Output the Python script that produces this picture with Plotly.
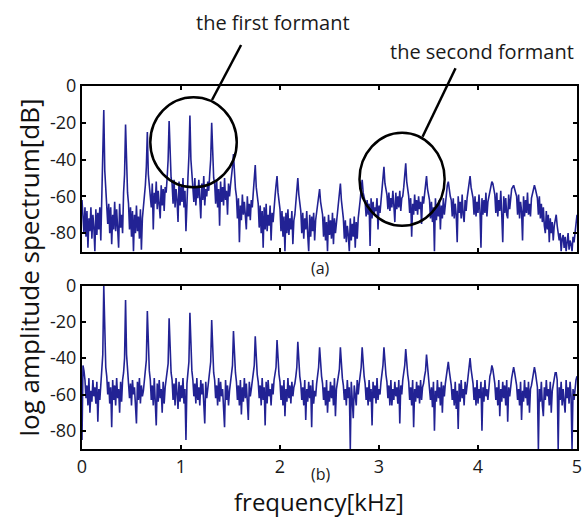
import numpy as np
import plotly.graph_objects as go
from plotly.subplots import make_subplots

# frequency sampling grid (kHz), 0.01 kHz step from 0 to 5
freq_step_khz = 0.01
n_bins = 501

# (a) log amplitude spectrum [dB] (one row per harmonic period)
spec_a = [
    -62, -70, -80, -66, -82, -68, -88, -72, -79, -66, -83, -70, -77, -90, -67, -81, -69, -78, -66, -84, -60, -48,
    -13, -46, -56, -62, -75, -64, -80, -66, -86, -70, -78, -63, -79, -67, -76, -88, -64, -77, -70, -80, -58, -48,
    -21, -50, -58, -64, -78, -66, -82, -68, -90, -70, -80, -65, -79, -71, -83, -67, -89, -72, -66, -62, -54, -44,
    -25, -48, -54, -56, -66, -53, -78, -58, -64, -52, -67, -57, -63, -72, -54, -65, -56, -68, -55, -58, -50, -40,
    -19, -42, -50, -53, -64, -51, -66, -56, -62, -74, -52, -65, -55, -63, -50, -66, -57, -79, -58, -50, -38,
    -16, -40, -48, -52, -63, -50, -65, -55, -61, -51, -64, -72, -53, -62, -49, -65, -56, -60, -52, -57, -48, -40,
    -20, -42, -50, -53, -64, -51, -66, -56, -76, -52, -63, -55, -65, -50, -62, -57, -70, -53, -60, -54, -50, -44,
    -37, -50, -56, -60, -72, -61, -85, -65, -73, -59, -70, -63, -74, -78, -60, -71, -64, -73, -62, -66, -58, -50,
    -43, -55, -61, -64, -77, -65, -80, -68, -88, -66, -78, -64, -79, -70, -76, -65, -84, -69, -74, -64, -60, -54,
    -49, -58, -63, -67, -79, -68, -82, -71, -90, -69, -80, -67, -81, -72, -78, -68, -86, -73, -70, -62, -56,
    -50, -59, -64, -68, -80, -69, -83, -72, -78, -68, -81, -90, -70, -82, -71, -79, -69, -84, -73, -69, -64, -60,
    -56, -63, -67, -70, -82, -71, -84, -74, -90, -70, -81, -73, -83, -69, -86, -72, -80, -74, -70, -65, -57,
    -53, -62, -68, -72, -83, -73, -85, -76, -81, -90, -72, -84, -75, -82, -71, -88, -74, -83, -72, -68, -62, -56,
    -51, -58, -61, -63, -71, -62, -70, -64, -87, -61, -72, -63, -70, -66, -68, -61, -78, -65, -69, -62, -56, -50,
    -44, -53, -57, -59, -67, -58, -68, -61, -66, -57, -65, -74, -58, -67, -60, -66, -57, -68, -61, -60, -55, -49,
    -42, -52, -57, -60, -69, -61, -82, -64, -70, -59, -68, -62, -70, -60, -67, -63, -75, -60, -64, -59, -54,
    -49, -56, -60, -62, -72, -63, -74, -66, -90, -61, -73, -64, -71, -62, -78, -65, -72, -61, -70, -63, -58, -54,
    -52, -58, -60, -62, -71, -61, -72, -64, -70, -85, -60, -69, -63, -72, -59, -70, -74, -62, -68, -61, -57, -52,
    -49, -55, -58, -61, -70, -60, -71, -63, -69, -59, -68, -88, -61, -70, -62, -69, -58, -71, -63, -60, -56, -53,
    -52, -53, -56, -59, -69, -58, -71, -62, -68, -57, -70, -85, -60, -69, -61, -70, -72, -59, -67, -59, -56, -55,
    -54, -56, -58, -60, -70, -59, -72, -63, -68, -84, -60, -71, -62, -69, -58, -70, -64, -71, -61, -58, -55,
    -54, -56, -59, -61, -70, -60, -72, -64, -74, -66, -76, -80, -68, -78, -70, -85, -72, -80, -74, -84, -76, -72,
    -70, -76, -80, -84, -80, -90, -83, -81, -88, -82, -90, -85, -80, -89, -84, -86, -90, -82, -85, -80, -74, -70,
]

# (b) log amplitude spectrum [dB]
spec_b = [
    -85, -44, -47, -52, -62, -55, -66, -51, -70, -58, -64, -52, -61, -56, -65, -53, -75, -57, -63, -52, -47, -38,
    0, -36, -45, -50, -60, -53, -65, -56, -78, -52, -63, -55, -66, -51, -62, -57, -70, -53, -64, -52, -48, -40,
    -8, -38, -46, -51, -62, -54, -66, -52, -60, -56, -64, -76, -53, -63, -51, -65, -55, -61, -58, -53, -48, -41,
    -14, -40, -47, -52, -63, -55, -66, -51, -61, -77, -54, -64, -52, -62, -57, -70, -53, -65, -56, -52, -49, -43,
    -18, -42, -48, -52, -63, -54, -66, -51, -60, -68, -53, -64, -55, -62, -51, -65, -57, -85, -54, -49, -42,
    -15, -40, -47, -52, -61, -54, -65, -51, -63, -56, -66, -52, -60, -54, -64, -76, -53, -62, -57, -52, -48, -42,
    -19, -41, -48, -52, -62, -55, -66, -51, -64, -53, -61, -57, -65, -78, -52, -63, -55, -66, -58, -52, -48, -44,
    -25, -42, -48, -53, -63, -55, -66, -52, -71, -56, -64, -51, -62, -54, -65, -74, -53, -61, -57, -53, -49, -44,
    -28, -43, -49, -53, -62, -55, -66, -51, -63, -56, -77, -53, -65, -52, -61, -57, -66, -54, -60, -52, -49, -45,
    -30, -44, -49, -53, -63, -55, -66, -52, -72, -57, -64, -51, -62, -55, -65, -53, -61, -56, -54, -50, -45,
    -31, -44, -50, -54, -63, -56, -66, -52, -74, -57, -64, -53, -62, -55, -78, -52, -65, -58, -61, -54, -50, -45,
    -34, -45, -50, -54, -63, -56, -66, -52, -70, -58, -64, -53, -62, -55, -66, -51, -72, -57, -54, -50, -46,
    -34, -46, -51, -55, -63, -57, -66, -52, -62, -56, -90, -53, -64, -73, -55, -61, -66, -52, -60, -54, -49, -45,
    -34, -45, -50, -54, -63, -56, -66, -52, -64, -57, -77, -53, -62, -55, -65, -51, -63, -57, -60, -53, -48, -44,
    -34, -44, -49, -53, -62, -55, -66, -52, -66, -57, -63, -53, -61, -56, -65, -52, -76, -55, -60, -52, -48, -44,
    -35, -44, -49, -53, -63, -56, -66, -52, -78, -57, -64, -53, -62, -55, -65, -52, -63, -56, -54, -50, -47,
    -38, -45, -50, -54, -63, -56, -67, -53, -80, -58, -64, -52, -62, -56, -66, -53, -70, -55, -61, -54, -50, -47,
    -42, -47, -51, -55, -63, -57, -66, -53, -68, -58, -79, -54, -64, -52, -62, -57, -66, -53, -60, -54, -50, -46,
    -40, -46, -50, -54, -63, -56, -66, -52, -65, -57, -62, -53, -80, -56, -64, -52, -61, -57, -63, -53, -50, -48,
    -44, -46, -50, -54, -63, -56, -66, -52, -72, -57, -64, -53, -62, -55, -66, -52, -75, -56, -61, -54, -51, -48,
    -45, -48, -52, -55, -63, -57, -66, -53, -74, -58, -64, -52, -62, -56, -66, -53, -70, -57, -55, -52, -49,
    -45, -48, -52, -56, -90, -57, -64, -53, -66, -72, -56, -63, -52, -61, -57, -66, -53, -70, -58, -54, -51, -48,
    -48, -52, -90, -56, -63, -53, -66, -57, -64, -70, -52, -62, -56, -65, -53, -61, -90, -57, -63, -55, -52, -50,
]

x_ticks = [0, 1, 2, 3, 4, 5]
x_labels = ["0", "1", "2", "3", "4", "5"]
y_ticks = [0, -20, -40, -60, -80]
y_labels = ["0", "-20", "-40", "-60", "-80"]

freq = np.round(np.arange(n_bins) * freq_step_khz, 2)

W, H = 586, 517
ML, MR, MT, MB = 82, 4, 86, 68
PW, PH = W - ML - MR, H - MT - MB


def px(x):
    return (x - ML) / PW


def py(y):
    return (H - MB - y) / PH


fig = make_subplots(rows=2, cols=1, vertical_spacing=0.0)
line_color = "rgb(34,34,148)"
fig.add_trace(go.Scatter(x=freq, y=spec_a[:n_bins], mode="lines",
                         line=dict(color=line_color, width=1.6), showlegend=False), row=1, col=1)
fig.add_trace(go.Scatter(x=freq, y=spec_b[:n_bins], mode="lines",
                         line=dict(color=line_color, width=1.6), showlegend=False), row=2, col=1)

font_family = "Open Sans, Noto Sans, DejaVu Sans, sans-serif"
axis_common = dict(showline=True, linecolor="black", linewidth=2, mirror="ticks",
                   ticks="inside", ticklen=4, tickwidth=1.5, tickcolor="black",
                   showgrid=False, zeroline=False,
                   tickfont=dict(family=font_family, size=18, color="#1a1a1a"))

fig.update_xaxes(range=[0, 5], tickvals=x_ticks, ticktext=x_labels, **axis_common)
fig.update_yaxes(range=[-90, 0], tickvals=y_ticks, ticktext=y_labels, **axis_common)
fig.update_xaxes(showticklabels=False, row=1, col=1)
fig.update_layout(
    xaxis=dict(domain=[0, 1]), xaxis2=dict(domain=[0, 1]),
    yaxis=dict(domain=[py(251.5), 1]), yaxis2=dict(domain=[0, py(285.5)]),
)

# formant circles (in data coordinates of panel a)
fig.add_shape(type="circle", xref="x", yref="y", x0=0.69, x1=1.563, y0=-55.1, y1=-6.1,
              line=dict(color="black", width=2.5))
fig.add_shape(type="circle", xref="x", yref="y", x0=2.803, x1=3.663, y0=-76.0, y1=-25.4,
              line=dict(color="black", width=2.5))
# leader lines
fig.add_shape(type="line", xref="paper", yref="paper", x0=px(242.7), y0=py(45), x1=px(213.3), y1=py(100),
              line=dict(color="black", width=2.5))
fig.add_shape(type="line", xref="paper", yref="paper", x0=px(459.3), y0=py(68.3), x1=px(426), y1=py(136.7),
              line=dict(color="black", width=2.5))

ann_font = dict(family=font_family, size=20, color="#1a1a1a")
annotations = [
    dict(text="the first formant", x=px(275), y=py(23), font=ann_font),
    dict(text="the second formant", x=px(486), y=py(52), font=ann_font),
    dict(text="(a)", x=px(323), y=py(268), font=dict(family=font_family, size=16, color="#1a1a1a")),
    dict(text="(b)", x=px(323), y=py(474), font=dict(family=font_family, size=16, color="#1a1a1a")),
    dict(text="frequency[kHz]", x=px(321), y=py(501), font=dict(family=font_family, size=24, color="#111")),
    dict(text="log amplitude spectrum[dB]", x=px(28), y=py(268), textangle=-90,
         font=dict(family=font_family, size=26, color="#111")),
]
for a in annotations:
    fig.add_annotation(xref="paper", yref="paper", showarrow=False, xanchor="center", yanchor="middle",
                       borderpad=0, **a)

fig.update_layout(width=W, height=H, margin=dict(l=ML, r=MR, t=MT, b=MB),
                  plot_bgcolor="white", paper_bgcolor="white")

fig.write_html("out.html", config={"displayModeBar": False},
               post_script="document.body.style.margin='0';document.body.style.overflow='hidden';")
